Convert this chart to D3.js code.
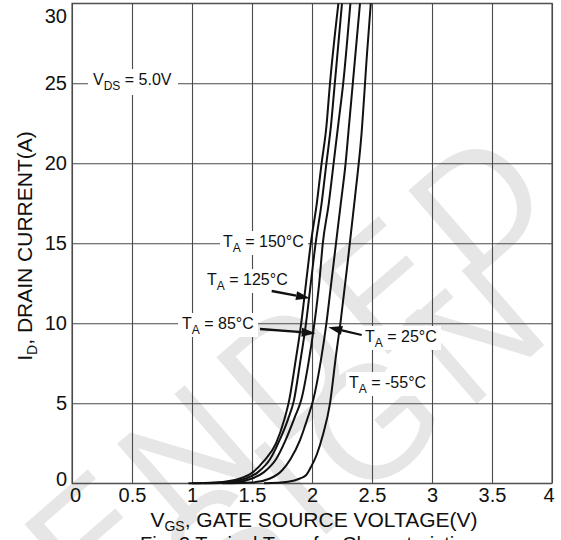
<!DOCTYPE html>
<html><head><meta charset="utf-8">
<script src="https://cdn.jsdelivr.net/npm/d3@7"></script>
<style>html,body{margin:0;padding:0;background:#fff;}svg{display:block;font-family:"Liberation Sans",Arial,sans-serif;}</style>
</head><body>
<svg id="c" width="561" height="540"></svg>
<script>
// ---- data ----
const xTicks = [0, 0.5, 1, 1.5, 2, 2.5, 3, 3.5, 4];
const yTicks = [0, 5, 10, 15, 20, 25, 30];
const xTickLabels = ["0", "0.5", "1", "1.5", "2", "2.5", "3", "3.5", "4"];
const yTickLabels = ["0", "5", "10", "15", "20", "25", "30"];
const temps = ["150", "125", "85", "25", "-55"];
// [VGS (V), ID (A)]
const curve150 = [[0.97,0],[1.2,0.05],[1.4,0.3],[1.5,0.65],[1.6,1.4],[1.7,2.5],[1.77,4],[1.81,5.2],[1.86,7.5],[1.91,10],[1.95,12.5],[1.99,15],[2.04,17.5],[2.08,20],[2.12,22.3],[2.15,25],[2.22,30]];
const curve125 = [[1.0,0],[1.25,0.05],[1.45,0.3],[1.55,0.7],[1.65,1.5],[1.73,2.7],[1.8,4],[1.85,5.2],[1.9,7.5],[1.95,10],[1.99,12.5],[2.03,15],[2.08,17.5],[2.12,20],[2.16,22.5],[2.19,25],[2.25,30]];
const curve85 = [[1.1,0],[1.35,0.05],[1.5,0.3],[1.6,0.7],[1.7,1.5],[1.78,2.7],[1.86,4.2],[1.91,5.2],[1.97,7.5],[2.02,10],[2.06,12.5],[2.09,15],[2.14,17.5],[2.18,20],[2.22,22.5],[2.26,25],[2.32,30]];
const curve25 = [[1.25,0],[1.5,0.05],[1.65,0.3],[1.75,0.8],[1.82,1.5],[1.9,2.7],[1.96,4],[2.01,5.2],[2.07,7.5],[2.12,10],[2.16,12.5],[2.2,15],[2.24,17.5],[2.28,20],[2.31,22.5],[2.34,25],[2.4,30]];
const curveM55 = [[1.6,0],[1.8,0.1],[1.9,0.3],[1.95,0.5],[1.99,1],[2.04,1.8],[2.09,3],[2.15,5],[2.2,8],[2.24,10.2],[2.3,14],[2.36,18],[2.41,21.6],[2.46,27],[2.49,30]];
const curves = [curve150, curve125, curve85, curve25, curveM55];
const watermark = ["RECOMMENDED", "NEW DESIGN"];

// ---- layout ----
const svg = d3.select("#c");
const x = d3.scaleLinear().domain([0, 4]).range([72, 552]);
const y = d3.scaleLinear().domain([0, 30]).range([483.3, 3.3]);
const gridColor = "#4a4a4a";

// watermark (behind everything)
const wm = svg.append("g").attr("fill", "#e6e6e6").attr("font-size", 160).attr("letter-spacing", 16);
wm.append("text").attr("text-anchor", "end").attr("transform", "translate(570,196) rotate(-41)").text(watermark[0]);
wm.append("text").attr("text-anchor", "end").attr("transform", "translate(566,326) rotate(-41)").text(watermark[1]);

// grid via axes
const gx = svg.append("g").attr("transform", `translate(0,${y(0)})`)
  .call(d3.axisBottom(x).tickValues(xTicks).tickFormat((d, i) => xTickLabels[i]).tickSize(-(y(0) - y(30))).tickPadding(5));
const gy = svg.append("g").attr("transform", `translate(${x(0)},0)`)
  .call(d3.axisLeft(y).tickValues(yTicks).tickFormat((d, i) => yTickLabels[i]).tickSize(-(x(4) - x(0))).tickPadding(5));
[gx, gy].forEach(g => {
  g.select(".domain").remove();
  g.selectAll(".tick line").attr("stroke", gridColor).attr("stroke-width", 1.1);
  g.selectAll(".tick text").attr("fill", "#111").attr("font-size", 20).attr("font-family", "Liberation Sans, Arial, sans-serif");
});
gx.selectAll(".tick text").attr("dx", d => d === 0 ? 3 : d === 4 ? -3.5 : 0);
gy.selectAll(".tick text").attr("dy", d => d === 30 ? "0.98em" : d === 0 ? "0.12em" : "0.32em");
// frame
svg.append("rect").attr("x", x(0)).attr("y", y(30)).attr("width", x(4) - x(0)).attr("height", y(0) - y(30))
  .attr("fill", "none").attr("stroke", gridColor).attr("stroke-width", 1.1);

// curves
const line = d3.line().x(d => x(d[0])).y(d => y(d[1])).curve(d3.curveMonotoneX);
svg.append("g").selectAll("path").data(curves).join("path")
  .attr("d", line).attr("fill", "none").attr("stroke", "#111").attr("stroke-width", 2);

// labels with white boxes
function label(tx, ty, parts, box) {
  const g = svg.append("g");
  g.append("rect").attr("x", box[0]).attr("y", box[1]).attr("width", box[2]).attr("height", box[3]).attr("fill", "#fff");
  const t = g.append("text").attr("x", tx).attr("y", ty).attr("font-size", 16).attr("fill", "#111");
  t.append("tspan").text(parts[0]);
  t.append("tspan").attr("font-size", 12).attr("dy", 5).text(parts[1]);
  t.append("tspan").attr("dy", -5).text(parts[2]);
}
label(93, 85, ["V", "DS", " = 5.0V"], [88, 69, 90, 26]);
label(223, 247, ["T", "A", " = 150°C"], [220, 231, 88, 24]);
label(207, 285, ["T", "A", " = 125°C"], [204, 269, 87, 24]);
label(182, 328.5, ["T", "A", " = 85°C"], [178, 313, 80, 24]);
label(365, 342, ["T", "A", " = 25°C"], [361, 326, 80, 24]);
label(349, 387.5, ["T", "A", " = -55°C"], [346, 372, 84, 24]);

// arrows
function arrow(x1, y1, x2, y2) {
  const ang = Math.atan2(y2 - y1, x2 - x1), L = 14, W = 4.5;
  const bx = x2 - L * Math.cos(ang), by = y2 - L * Math.sin(ang);
  svg.append("line").attr("x1", x1).attr("y1", y1).attr("x2", bx).attr("y2", by).attr("stroke", "#111").attr("stroke-width", 2.3);
  svg.append("path").attr("d", `M${x2},${y2}L${bx + W * Math.sin(ang)},${by - W * Math.cos(ang)}L${bx - W * Math.sin(ang)},${by + W * Math.cos(ang)}Z`).attr("fill", "#111");
}
arrow(271.7, 291, 310, 298.3);
arrow(260, 329, 315.7, 333.3);
arrow(361.7, 335, 328.3, 327.3);

// axis titles
const xt = svg.append("text").attr("x", 314).attr("y", 527).attr("text-anchor", "middle").attr("font-size", 21).attr("fill", "#111");
xt.append("tspan").text("V");
xt.append("tspan").attr("font-size", 14).attr("dy", 4).text("GS");
xt.append("tspan").attr("dy", -4).text(", GATE SOURCE VOLTAGE(V)");
const yt = svg.append("text").attr("transform", "translate(32,246) rotate(-90)").attr("text-anchor", "middle").attr("font-size", 21).attr("fill", "#111");
yt.append("tspan").text("I");
yt.append("tspan").attr("font-size", 14).attr("dy", 5).text("D");
yt.append("tspan").attr("dy", -5).text(", DRAIN CURRENT(A)");
svg.append("text").attr("x", 140).attr("y", 551).attr("font-size", 20).attr("fill", "#111").text("Fig. 3 Typical Transfer Characteristics");
</script>
</body></html>
